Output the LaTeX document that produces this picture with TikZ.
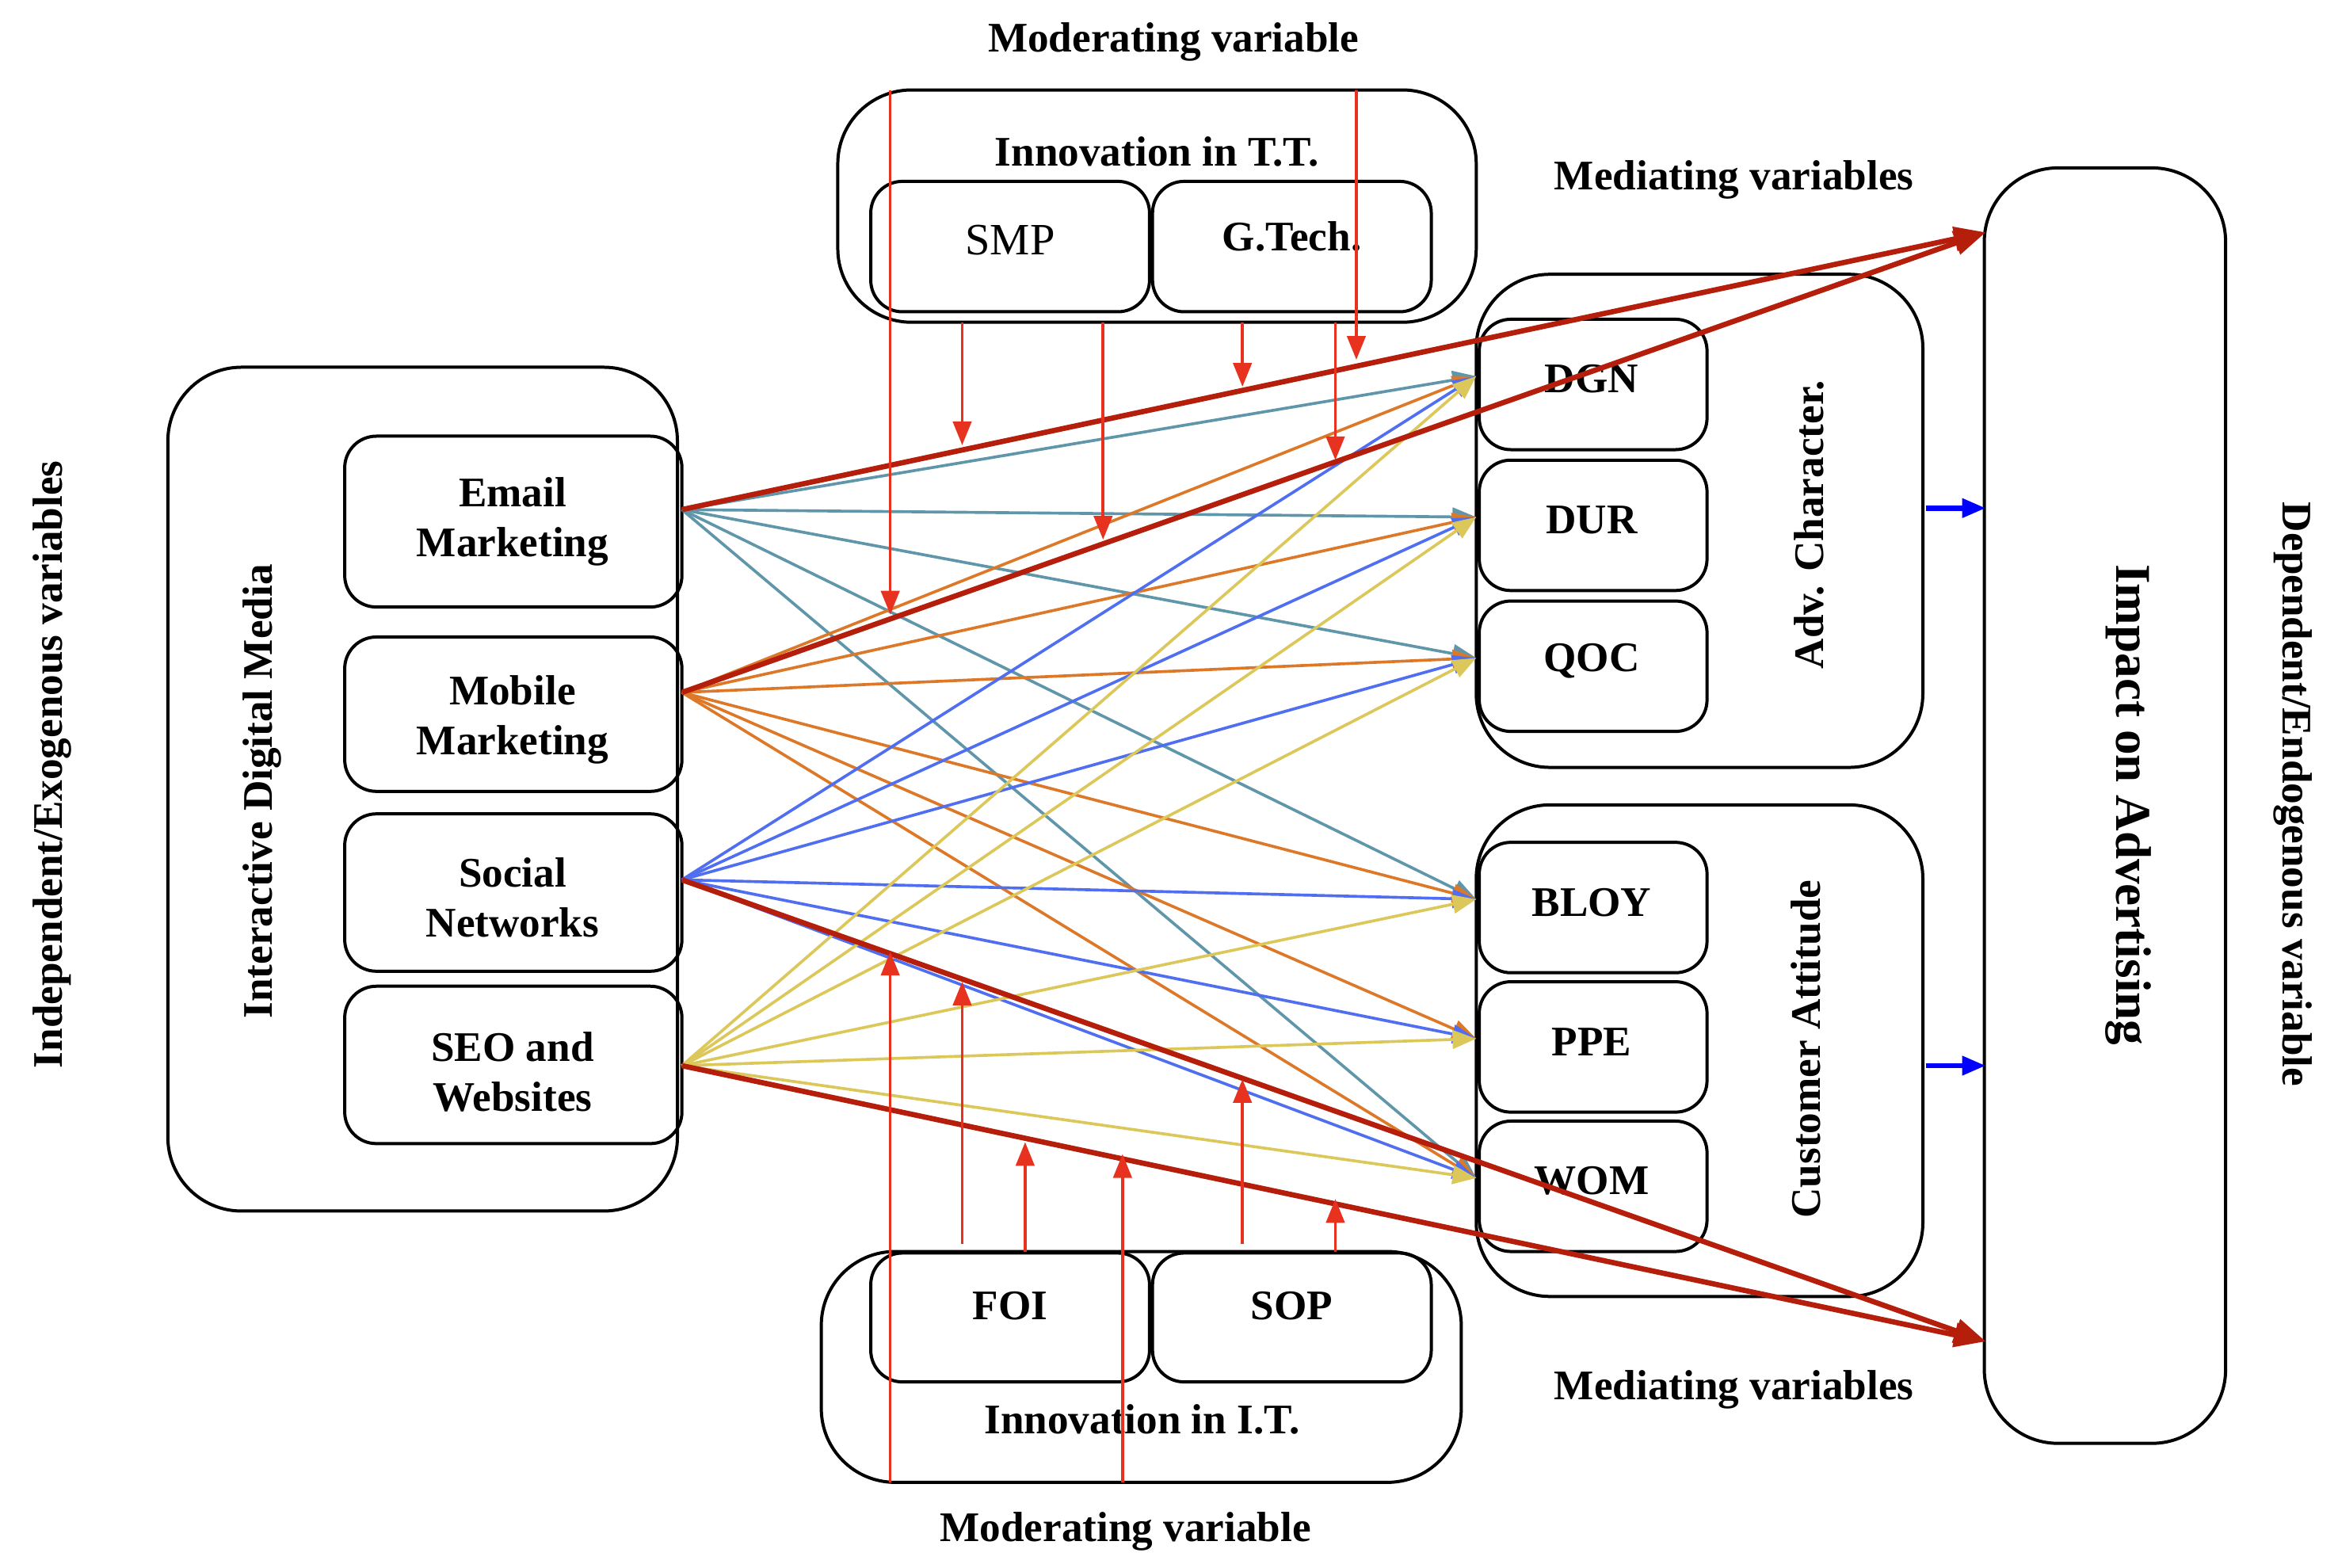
\documentclass[tikz,border=0pt]{standalone}
\usepackage{fontspec}
\setmainfont{Liberation Serif}
\usetikzlibrary{arrows.meta}
\definecolor{teal1}{RGB}{95,150,170}
\definecolor{orng}{RGB}{220,120,40}
\definecolor{blu}{RGB}{80,110,240}
\definecolor{yel}{RGB}{220,200,90}
\definecolor{dred}{RGB}{180,30,10}
\definecolor{rd}{RGB}{230,50,30}
\begin{document}
\begin{tikzpicture}[x=0.02cm, y=-0.02cm, font=\fontsize{16}{19}\selectfont\bfseries]
\tikzset{box_style/.style={draw=black, line width=1.2pt, rounded corners=12pt},
 big_style/.style={draw=black, line width=1.2pt, rounded corners=28pt},
 in_style/.style={-{Triangle[length=9pt,width=7pt]}, line width=1.1pt},
 mod_style/.style={draw=rd, line width=1.1pt, -{Triangle[length=9pt,width=7pt]}},
 main_style/.style={draw=dred, line width=2pt, -{Triangle[length=12pt,width=9pt]}}}
\useasboundingbox (0,0) rectangle (1560,1046);

% boxes
\draw[big_style] (112,245) rectangle (452,808);
\node[rotate=90] (idm) at (175,528) {Interactive Digital Media};
\node[rotate=90] (indep) at (35,510) {Independent/Exogenous variables};
\draw[box_style] (230,291) rectangle (455,405);
\node[align=center] (email) at (342,348) {Email\\Marketing};
\draw[box_style] (230,425) rectangle (455,528);
\node[align=center] (mobile) at (342,480) {Mobile\\Marketing};
\draw[box_style] (230,543) rectangle (455,648);
\node[align=center] (social) at (342,599) {Social\\Networks};
\draw[box_style] (230,658) rectangle (455,763);
\node[align=center] (seo) at (342,715) {SEO and\\Websites};

\node (modt) at (783,28) {Moderating variable};
\draw[big_style] (559,60) rectangle (985,215);
\node (itt) at (772,101) {Innovation in T.T.};
\draw[box_style] (581,121) rectangle (767,208);
\node[font=\fontsize{17}{20}\selectfont] (smp) at (674,160) {SMP};
\draw[box_style] (769,121) rectangle (955,208);
\node (gtech) at (862,158) {G.Tech.};

\draw[big_style] (548,835) rectangle (975,989);
\draw[box_style] (581,836) rectangle (767,922);
\node (foi) at (674,871) {FOI};
\draw[box_style] (769,836) rectangle (955,922);
\node (sop) at (862,871) {SOP};
\node (iit) at (762,947) {Innovation in I.T.};
\node (modb) at (751,1022) {Moderating variable};

\node (medt) at (1157,120) {Mediating variables};
\node (medb) at (1157,927) {Mediating variables};
\draw[big_style] (985,183) rectangle (1283,512);
\node[rotate=90] (adv) at (1207,350) {Adv. Character.};
\draw[big_style] (985,537) rectangle (1283,865);
\node[rotate=90] (att) at (1205,700) {Customer Attitude};
\foreach \n/\t/\y in {dgn/DGN/213, dur/DUR/307, qoc/QOC/401, bloy/BLOY/562, ppe/PPE/655, wom/WOM/748}{
  \draw[box_style] (987,\y) rectangle (1139,\y+87);
  \node (\n) at (1062,\y+40) {\t};
  \coordinate (\n t) at (985,\y+38);
}
\draw[big_style] (1324,112) rectangle (1485,963);
\node[rotate=-90, font=\fontsize{19}{22}\selectfont\bfseries] (impact) at (1420,537) {Impact on Advertising};
\node[rotate=-90] (dep) at (1530,530) {Dependent/Endogenous variable};

% sources and sinks
\coordinate (se) at (455,340);
\coordinate (sm) at (455,462);
\coordinate (ss) at (455,587);
\coordinate (sw) at (455,711);
\coordinate (it) at (1325,155);
\coordinate (ib) at (1325,895);

% colored paths
\foreach \t in {dgnt,durt,qoct,bloyt,womt} \draw[in_style, teal1] (se) -- (\t);
\foreach \t in {dgnt,durt,qoct,bloyt,ppet,womt} \draw[in_style, orng] (sm) -- (\t);
\foreach \t in {dgnt,durt,qoct,bloyt,ppet,womt} \draw[in_style, blu] (ss) -- (\t);
\foreach \t in {dgnt,durt,qoct,bloyt,ppet,womt} \draw[in_style, yel] (sw) -- (\t);

% main paths
\draw[main_style] (se) -- (it);
\draw[main_style] (sm) -- (it);
\draw[main_style] (ss) -- (ib);
\draw[main_style] (sw) -- (ib);
\draw[in_style, blue, line width=2pt] (1285,339) -- (1325,339);
\draw[in_style, blue, line width=2pt] (1285,711) -- (1325,711);

% moderators
\foreach \x/\a/\b in {594/60/410, 642/215/297, 736/215/360, 829/215/258, 905/60/240, 891/215/307,
  594/989/635, 642/830/655, 684/835/762, 749/989/770, 829/830/720, 891/835/800}
  \draw[mod_style] (\x,\a) -- (\x,\b);
\end{tikzpicture}
\end{document}
